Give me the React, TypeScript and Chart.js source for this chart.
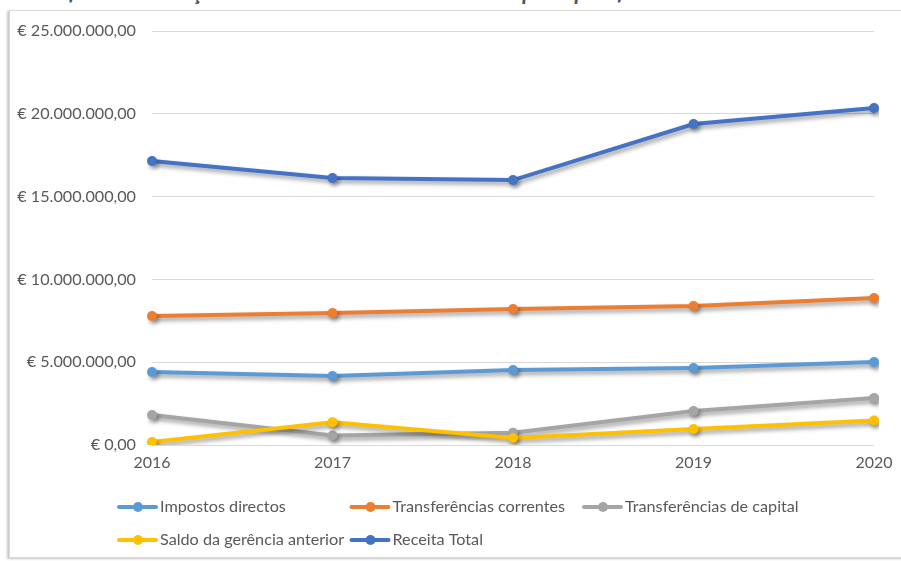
import React, { useEffect, useRef } from "react";
import { Chart, registerables } from "chart.js";

Chart.register(...registerables);

const years = ["2016", "2017", "2018", "2019", "2020"];
const impostosDirectos = [4410000, 4170000, 4530000, 4650000, 5010000];
const transferenciasCorrentes = [7790000, 7970000, 8210000, 8390000, 8880000];
const transferenciasCapital = [1810000, 570000, 740000, 2050000, 2840000];
const saldoGerenciaAnterior = [180000, 1380000, 420000, 970000, 1480000];
const receitaTotal = [17150000, 16120000, 16000000, 19380000, 20350000];
const yTickLabels = [
  "€ 0,00",
  "€ 5.000.000,00",
  "€ 10.000.000,00",
  "€ 15.000.000,00",
  "€ 20.000.000,00",
  "€ 25.000.000,00",
];
const seriesNames = [
  "Impostos directos",
  "Transferências correntes",
  "Transferências de capital",
  "Saldo da gerência anterior",
  "Receita Total",
];
const seriesColors = ["#5B9BD5", "#ED7D31", "#A5A5A5", "#FFC000", "#4472C4"];
const titleText = "Gráfico 1 – Evolução do valor da receita cobrada nas principais fontes de receita";

const FONT = "Lato, 'Noto Sans', sans-serif";
const TEXT_COLOR = "#595959";

const shadowPlugin = {
  id: "lineShadow",
  beforeDatasetsDraw(chart: any) {
    const ctx = chart.ctx;
    ctx.save();
    ctx.shadowColor = "rgba(0,0,0,0.38)";
    ctx.shadowBlur = 4;
    ctx.shadowOffsetX = 2;
    ctx.shadowOffsetY = 3;
  },
  afterDatasetsDraw(chart: any) {
    chart.ctx.restore();
  },
};

const legendPlugin = {
  id: "gridLegend",
  afterDraw(chart: any) {
    const ctx = chart.ctx;
    const left = 117;
    const colW = 232.5;
    const rowY = [507, 540];
    ctx.save();
    chart.data.datasets.forEach((ds: any, i: number) => {
      const col = i % 3;
      const row = Math.floor(i / 3);
      const x = left + col * colW;
      const y = rowY[row];
      ctx.strokeStyle = ds.borderColor;
      ctx.lineWidth = 4;
      ctx.lineCap = "round";
      ctx.beginPath();
      ctx.moveTo(x + 2, y);
      ctx.lineTo(x + 39, y);
      ctx.stroke();
      ctx.fillStyle = ds.borderColor;
      ctx.beginPath();
      ctx.arc(x + 21, y, 5, 0, Math.PI * 2);
      ctx.fill();
      ctx.fillStyle = TEXT_COLOR;
      ctx.font = `16.2px ${FONT}`;
      ctx.textBaseline = "middle";
      ctx.textAlign = "left";
      ctx.fillText(ds.label, x + 43, y);
    });
    ctx.restore();
  },
};

export default function App() {
  const canvasRef = useRef<HTMLCanvasElement | null>(null);

  useEffect(() => {
    if (!canvasRef.current) return;
    const seriesValues = [
      impostosDirectos,
      transferenciasCorrentes,
      transferenciasCapital,
      saldoGerenciaAnterior,
      receitaTotal,
    ];
    const chart = new Chart(canvasRef.current, {
      type: "line",
      data: {
        labels: years,
        datasets: seriesValues.map((vals, i) => ({
          label: seriesNames[i],
          data: vals,
          borderColor: seriesColors[i],
          backgroundColor: seriesColors[i],
          pointBackgroundColor: seriesColors[i],
          pointBorderColor: seriesColors[i],
          borderWidth: 4,
          pointRadius: 5,
          pointHoverRadius: 5,
          pointBorderWidth: 0,
          tension: 0,
          fill: false,
          order: seriesValues.length - 1 - i,
        })),
      },
      options: {
        responsive: false,
        animation: false,
        devicePixelRatio: 1,
        layout: { padding: { left: 0, right: 27, top: 31, bottom: 76 } },
        plugins: {
          legend: { display: false },
          tooltip: { enabled: false },
          title: { display: false },
        },
        scales: {
          x: {
            offset: false,
            grid: { display: false, drawTicks: false },
            border: { display: false },
            ticks: {
              color: TEXT_COLOR,
              font: { family: FONT, size: 16 },
              padding: 8,
              maxRotation: 0,
            },
            afterFit(scale: any) {
              scale.height = 40;
            },
          },
          y: {
            min: 0,
            max: 25000000,
            grid: { color: "#D9D9D9", lineWidth: 1, drawTicks: false },
            border: { display: false },
            ticks: {
              stepSize: 5000000,
              color: TEXT_COLOR,
              font: { family: FONT, size: 16.2 },
              padding: 16,
              callback: (_v: any, idx: number) => yTickLabels[idx],
            },
            afterFit(scale: any) {
              scale.width = 152;
            },
          },
        },
      },
      plugins: [shadowPlugin, legendPlugin],
    });
    return () => chart.destroy();
  }, []);

  return (
    <div
      style={{
        position: "absolute",
        left: 0,
        top: 0,
        width: 901,
        height: 561,
        overflow: "hidden",
        background: "#ffffff",
      }}
    >
      <div
        style={{
          position: "absolute",
          left: 35,
          top: -19,
          whiteSpace: "nowrap",
          font: `italic bold 22px ${FONT}`,
          lineHeight: "22px",
          color: "#44546A",
        }}
      >
        {titleText}
      </div>
      <div
        style={{
          position: "absolute",
          left: 9,
          top: 10,
          width: 910,
          height: 546,
          border: "1px solid #D9D9D9",
          boxShadow: "-2px 1px 2px rgba(0,0,0,0.22)",
          background: "#ffffff",
        }}
      />
      <canvas
        ref={canvasRef}
        width={901}
        height={561}
        style={{ position: "absolute", left: 0, top: 0, width: 901, height: 561 }}
      />
    </div>
  );
}
